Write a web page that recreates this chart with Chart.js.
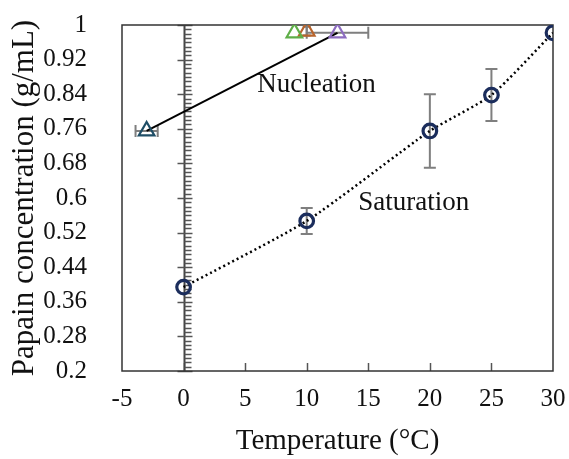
<!DOCTYPE html>
<html>
<head>
<meta charset="utf-8">
<script src="https://cdn.jsdelivr.net/npm/chart.js@4/dist/chart.umd.min.js"></script>
<style>
  html, body { margin: 0; padding: 0; background: #fff; }
  #wrap { width: 569px; height: 459px; }
</style>
</head>
<body>
<div id="wrap"><canvas id="c" width="569" height="459"></canvas></div>
<script>
// ---- data ----
const xTicks = [-5, 0, 5, 10, 15, 20, 25, 30];
const yTicks = [0.2, 0.28, 0.36, 0.44, 0.52, 0.6, 0.68, 0.76, 0.84, 0.92, 1];

const satTemp = [0, 10, 20, 25, 30];
const satConc = [0.394, 0.547, 0.755, 0.838, 0.982];
const satErr  = [0, 0.03, 0.085, 0.06, 0];

const nucTemp    = [-3, 9, 10, 12.5];
const nucConc    = [0.755, 0.982, 0.986, 0.982];
const nucTempErr = [0.9, 0, 0, 2.5];
const nucConcErr = [0, 0, 0.01, 0];
const nucColors  = ['#1f4e66', '#5fae48', '#b8642c', '#8d6cc0'];

const labelTexts = ['Nucleation', 'Saturation'];
const labelPos = [{x: 10.8, y: 0.861}, {x: 18.7, y: 0.588}];

// ---- datasets ----
const satPoints = satTemp.map((t, i) => ({x: t, y: satConc[i], e: satErr[i]}));
const nucPoints = nucTemp.map((t, i) => ({x: t, y: nucConc[i], ex: nucTempErr[i], ey: nucConcErr[i]}));
const nucLine = [nucPoints[0], nucPoints[nucPoints.length - 1]];

const datasets = [
  { label: 'Saturation trend', data: satPoints, showLine: true, borderColor: '#000',
    borderWidth: 2.5, borderDash: [2, 3], pointRadius: 0, tension: 0.2, order: 5 },
  { label: 'Nucleation line', data: nucLine, showLine: true, borderColor: '#000',
    borderWidth: 2, pointRadius: 0, order: 5 },
  { label: 'Saturation', data: satPoints, showLine: false, pointStyle: 'circle', pointRadius: 6.8,
    borderColor: '#1b2d5c', backgroundColor: 'rgba(255,255,255,0)', pointBorderWidth: 3.2, order: 1 },
];
nucPoints.forEach((p, i) => {
  datasets.push({ label: 'Nucleation ' + i, data: [p], showLine: false, pointStyle: 'triangle',
    pointRadius: 9, borderColor: nucColors[i], backgroundColor: 'rgba(255,255,255,0)',
    pointBorderWidth: 2.2, order: 1 });
});

// ---- plugin: box, inner axis at x=0, ticks, error bars, labels ----
const decor = {
  id: 'decor',
  beforeDatasetsDraw(chart) {
    const ctx = chart.ctx, a = chart.chartArea, xs = chart.scales.x, ys = chart.scales.y;
    ctx.save();
    // x-axis inner ticks
    ctx.strokeStyle = '#555'; ctx.lineWidth = 1.5;
    xTicks.forEach(v => {
      if (v === xTicks[0] || v === xTicks[xTicks.length - 1]) return;
      const px = Math.round(xs.getPixelForValue(v)) + 0.5;
      ctx.beginPath(); ctx.moveTo(px, a.bottom); ctx.lineTo(px, a.bottom - 8); ctx.stroke();
    });
    // vertical axis at x = 0
    const x0 = Math.round(xs.getPixelForValue(0)) + 0.5;
    ctx.strokeStyle = '#444'; ctx.lineWidth = 2;
    ctx.beginPath(); ctx.moveTo(x0, a.top); ctx.lineTo(x0, a.bottom); ctx.stroke();
    ctx.strokeStyle = '#555'; ctx.lineWidth = 1.5;
    for (let i = 20; i <= 100; i++) {
      const py = Math.round(ys.getPixelForValue(i / 100)) + 0.5;
      ctx.beginPath();
      if ((i - 20) % 8 === 0) { ctx.moveTo(x0 - 7, py); ctx.lineTo(x0 + 8, py); }
      else { ctx.moveTo(x0, py); ctx.lineTo(x0 + 7, py); }
      ctx.stroke();
    }
    // plot box
    ctx.strokeStyle = '#333'; ctx.lineWidth = 1.5;
    ctx.strokeRect(a.left, a.top, a.right - a.left, a.bottom - a.top);
    // error bars
    ctx.strokeStyle = '#7f7f7f'; ctx.lineWidth = 2;
    const cap = 6;
    satPoints.forEach(p => {
      if (!p.e) return;
      const px = xs.getPixelForValue(p.x);
      const y1 = ys.getPixelForValue(p.y + p.e), y2 = ys.getPixelForValue(p.y - p.e);
      ctx.beginPath();
      ctx.moveTo(px, y1); ctx.lineTo(px, y2);
      ctx.moveTo(px - cap, y1); ctx.lineTo(px + cap, y1);
      ctx.moveTo(px - cap, y2); ctx.lineTo(px + cap, y2);
      ctx.stroke();
    });
    nucPoints.forEach(p => {
      const px = xs.getPixelForValue(p.x), py = ys.getPixelForValue(p.y);
      ctx.beginPath();
      if (p.ex) {
        const x1 = xs.getPixelForValue(p.x - p.ex), x2 = xs.getPixelForValue(p.x + p.ex);
        ctx.moveTo(x1, py); ctx.lineTo(x2, py);
        ctx.moveTo(x1, py - cap); ctx.lineTo(x1, py + cap);
        ctx.moveTo(x2, py - cap); ctx.lineTo(x2, py + cap);
      }
      if (p.ey) {
        const y1 = ys.getPixelForValue(p.y + p.ey), y2 = ys.getPixelForValue(p.y - p.ey);
        ctx.moveTo(px, y1); ctx.lineTo(px, y2);
        ctx.moveTo(px - 4, y1); ctx.lineTo(px + 4, y1);
        ctx.moveTo(px - 4, y2); ctx.lineTo(px + 4, y2);
      }
      ctx.stroke();
    });
    ctx.restore();
  },
  afterDatasetsDraw(chart) {
    const ctx = chart.ctx, xs = chart.scales.x, ys = chart.scales.y;
    ctx.save();
    ctx.fillStyle = '#111';
    ctx.font = '27px "Liberation Serif"';
    ctx.textAlign = 'center'; ctx.textBaseline = 'middle';
    labelTexts.forEach((t, i) => {
      ctx.fillText(t, xs.getPixelForValue(labelPos[i].x), ys.getPixelForValue(labelPos[i].y));
    });
    ctx.restore();
  }
};

const tickFont = { family: 'Liberation Serif', size: 25 };

new Chart(document.getElementById('c'), {
  type: 'scatter',
  data: { datasets },
  options: {
    responsive: false,
    animation: false,
    devicePixelRatio: 1,
    layout: { padding: { top: 25, right: 16, bottom: 0, left: 0 } },
    plugins: { legend: { display: false }, tooltip: { enabled: false } },
    scales: {
      x: {
        type: 'linear', min: -5, max: 30,
        afterBuildTicks: s => { s.ticks = xTicks.map(v => ({ value: v })); },
        afterFit: s => { s.height = 88; s.paddingLeft = 0; s.paddingRight = 0; },
        grid: { display: false }, border: { display: false },
        ticks: { font: tickFont, color: '#111', padding: 5, maxRotation: 0, autoSkip: false,
                 callback: v => String(v) },
        title: { display: true, text: 'Temperature (°C)', font: { family: 'Liberation Serif', size: 29 },
                 color: '#111', padding: { top: 0, bottom: 0 } }
      },
      y: {
        type: 'linear', min: 0.2, max: 1,
        afterBuildTicks: s => { s.ticks = yTicks.map(v => ({ value: v })); },
        afterFit: s => { s.width = 122; s.paddingTop = 0; s.paddingBottom = 0; },
        grid: { display: false, drawTicks: false }, border: { display: false },
        ticks: { font: tickFont, color: '#111', padding: 35, autoSkip: false,
                 callback: v => String(Math.round(v * 100) / 100) },
        title: { display: true, text: 'Papain concentration (g/mL)', font: { family: 'Liberation Serif', size: 31 },
                 color: '#111', padding: { top: 6, bottom: 0 } }
      }
    }
  },
  plugins: [decor]
});
</script>
</body>
</html>
